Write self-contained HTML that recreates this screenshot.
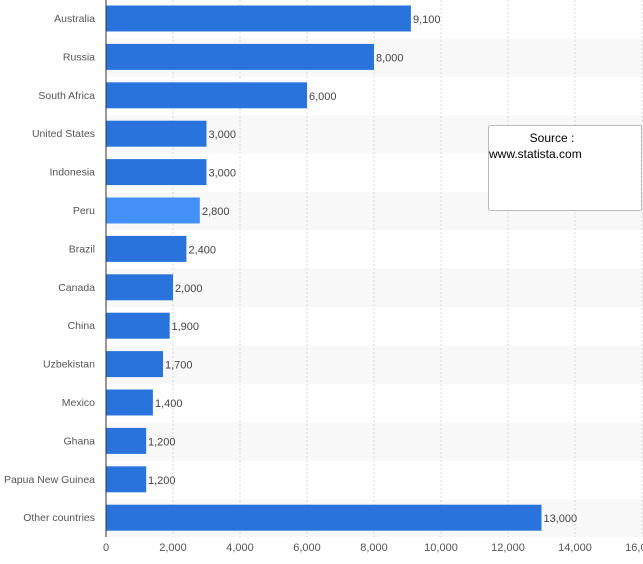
<!DOCTYPE html><html><head><style>body{margin:0;background:#fff}</style></head><body>
<svg width="643" height="559" xmlns="http://www.w3.org/2000/svg" font-family="Liberation Sans, sans-serif">
<g fill="#f8f8f8">
<rect x="106" y="38.4" width="537" height="38.4"/><rect x="106" y="115.2" width="537" height="38.4"/><rect x="106" y="192" width="537" height="38.4"/><rect x="106" y="268.8" width="537" height="38.4"/><rect x="106" y="345.6" width="537" height="38.4"/><rect x="106" y="422.4" width="537" height="38.4"/><rect x="106" y="499.2" width="537" height="38"/>
</g>
<g stroke="#d8d8d8" stroke-dasharray="2,2">
<line x1="173" y1="0" x2="173" y2="537"/><line x1="240" y1="0" x2="240" y2="537"/><line x1="307" y1="0" x2="307" y2="537"/><line x1="374" y1="0" x2="374" y2="537"/><line x1="441" y1="0" x2="441" y2="537"/><line x1="508" y1="0" x2="508" y2="537"/><line x1="575" y1="0" x2="575" y2="537"/><line x1="642" y1="0" x2="642" y2="537"/>
</g>
<g fill="#2874dc">
<rect x="106" y="5.5" width="304.9" height="26"/>
<rect x="106" y="43.9" width="268" height="26"/>
<rect x="106" y="82.3" width="201" height="26"/>
<rect x="106" y="120.7" width="100.5" height="26"/>
<rect x="106" y="159.1" width="100.5" height="26"/>
<rect x="106" y="197.5" width="93.8" height="26" fill="#4390f8"/>
<rect x="106" y="235.9" width="80.4" height="26"/>
<rect x="106" y="274.3" width="67" height="26"/>
<rect x="106" y="312.7" width="63.7" height="26"/>
<rect x="106" y="351.1" width="57" height="26"/>
<rect x="106" y="389.5" width="46.9" height="26"/>
<rect x="106" y="427.9" width="40.2" height="26"/>
<rect x="106" y="466.3" width="40.2" height="26"/>
<rect x="106" y="504.7" width="435.5" height="26"/>
</g>
<g font-size="10.5" fill="#555" text-anchor="end">
<text x="95" y="22">Australia</text><text x="95" y="60.4">Russia</text><text x="95" y="98.8">South Africa</text><text x="95" y="137.2">United States</text><text x="95" y="175.6">Indonesia</text><text x="95" y="214">Peru</text><text x="95" y="252.4">Brazil</text><text x="95" y="290.8">Canada</text><text x="95" y="329.2">China</text><text x="95" y="367.6">Uzbekistan</text><text x="95" y="406">Mexico</text><text x="95" y="444.4">Ghana</text><text x="95" y="482.8">Papua New Guinea</text><text x="95" y="521.2">Other countries</text>
</g>
<g font-size="11" fill="#444">
<text x="413" y="23">9,100</text><text x="376" y="61.4">8,000</text><text x="309" y="99.8">6,000</text><text x="208.5" y="138.2">3,000</text><text x="208.5" y="176.6">3,000</text><text x="202" y="215">2,800</text><text x="188.5" y="253.4">2,400</text><text x="175" y="291.8">2,000</text><text x="171.5" y="330.2">1,900</text><text x="165" y="368.6">1,700</text><text x="155" y="407">1,400</text><text x="148" y="445.4">1,200</text><text x="148" y="483.8">1,200</text><text x="543.5" y="522.2">13,000</text>
</g>
<g font-size="11" fill="#555" text-anchor="middle">
<text x="106" y="551">0</text><text x="173" y="551">2,000</text><text x="240" y="551">4,000</text><text x="307" y="551">6,000</text><text x="374" y="551">8,000</text><text x="441" y="551">10,000</text><text x="508" y="551">12,000</text><text x="575" y="551">14,000</text><text x="642" y="551">16,000</text>
</g>
<line x1="106" y1="0" x2="106" y2="537" stroke="#333"/>
<rect x="488.5" y="125.5" width="153" height="85" rx="2" fill="#fff" stroke="#bbb"/>
<text x="552" y="142" text-anchor="middle" font-size="12" fill="#000">Source :</text>
<text x="489" y="158" font-size="12" fill="#000">www.statista.com</text>
</svg></body></html>
